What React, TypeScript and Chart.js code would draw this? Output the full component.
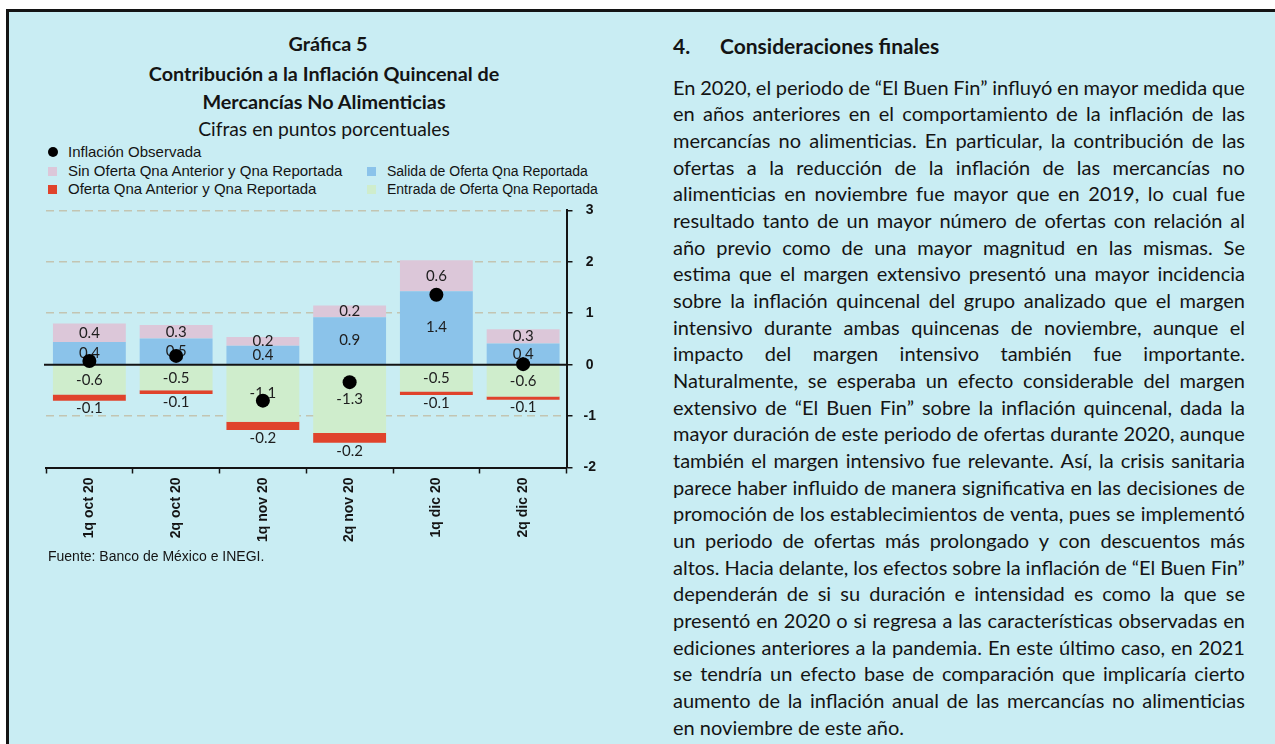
import React, { useEffect, useRef } from 'react';
import { Chart, registerables } from 'chart.js';

Chart.register(...registerables);

// ---------- DATA ----------
const categories = ['1q oct 20', '2q oct 20', '1q nov 20', '2q nov 20', '1q dic 20', '2q dic 20'];
const inflacionObservada = [0.07, 0.17, -0.7, -0.34, 1.36, 0.01];
const sinOfertaQna = [0.36, 0.26, 0.17, 0.23, 0.6, 0.28];
const salidaOfertaQna = [0.44, 0.51, 0.37, 0.92, 1.43, 0.41];
const entradaOfertaQna = [-0.58, -0.5, -1.11, -1.33, -0.52, -0.62];
const ofertaAnteriorQna = [-0.12, -0.07, -0.16, -0.19, -0.07, -0.06];
const yTickValues = [-2, -1, 0, 1, 2, 3];

const nameObs = 'Inflación Observada';
const nameSin = 'Sin Oferta Qna Anterior y Qna Reportada';
const nameSalida = 'Salida de Oferta Qna Reportada';
const nameOferta = 'Oferta Qna Anterior y Qna Reportada';
const nameEntrada = 'Entrada de Oferta Qna Reportada';

const titleLines = ['Gráfica 5', 'Contribución a la Inflación Quincenal de', 'Mercancías No Alimenticias'];
const subtitle = 'Cifras en puntos porcentuales';
const sourceText = 'Fuente: Banco de México e INEGI.';

const headingNum = '4.';
const headingText = 'Consideraciones finales';
const bodyLines = [
  'En 2020, el periodo de “El Buen Fin” influyó en mayor medida que',
  'en años anteriores en el comportamiento de la inflación de las',
  'mercancías no alimenticias. En particular, la contribución de las',
  'ofertas a la reducción de la inflación de las mercancías no',
  'alimenticias en noviembre fue mayor que en 2019, lo cual fue',
  'resultado tanto de un mayor número de ofertas con relación al',
  'año previo como de una mayor magnitud en las mismas. Se',
  'estima que el margen extensivo presentó una mayor incidencia',
  'sobre la inflación quincenal del grupo analizado que el margen',
  'intensivo durante ambas quincenas de noviembre, aunque el',
  'impacto del margen intensivo también fue importante.',
  'Naturalmente, se esperaba un efecto considerable del margen',
  'extensivo de “El Buen Fin” sobre la inflación quincenal, dada la',
  'mayor duración de este periodo de ofertas durante 2020, aunque',
  'también el margen intensivo fue relevante. Así, la crisis sanitaria',
  'parece haber influido de manera significativa en las decisiones de',
  'promoción de los establecimientos de venta, pues se implementó',
  'un periodo de ofertas más prolongado y con descuentos más',
  'altos. Hacia delante, los efectos sobre la inflación de “El Buen Fin”',
  'dependerán de si su duración e intensidad es como la que se',
  'presentó en 2020 o si regresa a las características observadas en',
  'ediciones anteriores a la pandemia. En este último caso, en 2021',
  'se tendría un efecto base de comparación que implicaría cierto',
  'aumento de la inflación anual de las mercancías no alimenticias',
  'en noviembre de este año.',
];

// ---------- STYLE ----------
const BG = '#c9edf3';
const C_PINK = '#dcc7d9';
const C_BLUE = '#8bc3ea';
const C_GREEN = '#cfedcc';
const C_RED = '#e0432b';
const C_GRID = '#c3c5b2';
const INK = '#141414';
const CALIBRI = 'Lato, "Open Sans", sans-serif';
const ARIAL = '"Liberation Sans", Arial, sans-serif';
const BODY_SIZE = 20;
const BODY_WIDTH = 572;

let measureCtx: CanvasRenderingContext2D | null = null;
function fitSize(words: string[], base: number, width: number, minGap: number) {
  if (!measureCtx && typeof document !== 'undefined') {
    measureCtx = document.createElement('canvas').getContext('2d');
  }
  if (!measureCtx) return base;
  let size = base;
  for (; size > 14; size -= 0.25) {
    measureCtx.font = `${size}px Lato`;
    let w = minGap * (words.length - 1);
    for (const wd of words) w += measureCtx.measureText(wd).width;
    if (w <= width) break;
  }
  return size;
}

const segLabelPlugin = {
  id: 'segLabels',
  beforeDatasetDraw(chart: any, args: any) {
    if (args.meta.type !== 'line') return;
    const ctx = chart.ctx;
    const ys = chart.scales.y;
    const area = chart.chartArea;
    ctx.save();
    const y0 = ys.getPixelForValue(0);
    ctx.strokeStyle = INK;
    ctx.lineWidth = 2;
    ctx.beginPath();
    ctx.moveTo(area.left - 2, y0);
    ctx.lineTo(area.right, y0);
    ctx.stroke();
    ctx.font = '15px Lato';
    ctx.fillStyle = '#1e1e1e';
    ctx.textAlign = 'center';
    ctx.textBaseline = 'middle';
    chart.data.datasets.forEach((ds: any, di: number) => {
      const meta = chart.getDatasetMeta(di);
      if (meta.type !== 'bar') return;
      meta.data.forEach((el: any, i: number) => {
        const v = ds.data[i];
        const p = el.getProps(['x', 'y', 'base'], true);
        const ty = ds.labelPos === 'below' ? Math.max(p.y, p.base) + 8 : (p.y + p.base) / 2;
        ctx.fillText(v.toFixed(1), p.x, ty);
      });
    });
    ctx.restore();
  },
};

function ChartCanvas() {
  const ref = useRef<HTMLCanvasElement>(null);
  useEffect(() => {
    if (!ref.current) return;
    const chart = new Chart(ref.current, {
      type: 'bar',
      data: {
        labels: categories,
        datasets: [
          {
            type: 'line',
            label: nameObs,
            data: inflacionObservada,
            showLine: false,
            pointRadius: 7,
            pointHoverRadius: 7,
            pointBackgroundColor: '#000',
            pointBorderColor: '#000',
            borderWidth: 0,
            order: 0,
            stack: 'obs',
          } as any,
          { label: nameSalida, data: salidaOfertaQna, backgroundColor: C_BLUE, order: 1, stack: 'bars' },
          { label: nameSin, data: sinOfertaQna, backgroundColor: C_PINK, order: 1, stack: 'bars' },
          { label: nameEntrada, data: entradaOfertaQna, backgroundColor: C_GREEN, order: 1, stack: 'bars' },
          { label: nameOferta, data: ofertaAnteriorQna, backgroundColor: C_RED, order: 1, stack: 'bars', labelPos: 'below' } as any,
        ],
      },
      options: {
        animation: false,
        responsive: false,
        maintainAspectRatio: false,
        datasets: { bar: { barPercentage: 0.84, categoryPercentage: 1 } },
        layout: { padding: { left: 46, right: 13.5, top: 0, bottom: 3.5 } },
        plugins: { legend: { display: false }, tooltip: { enabled: false } },
        scales: {
          x: {
            stacked: true,
            offset: true,
            grid: {
              display: true,
              offset: true,
              drawOnChartArea: false,
              drawTicks: true,
              tickLength: 6,
              tickColor: INK,
              tickWidth: 1.5,
            },
            border: { display: true, color: INK, width: 2 },
            ticks: {
              color: INK,
              font: { family: ARIAL, size: 14, weight: 'bold' },
              minRotation: 90,
              maxRotation: 90,
              autoSkip: false,
              padding: 4,
            },
            afterFit: (s: any) => {
              s.height = 80;
            },
          },
          y: {
            position: 'right',
            stacked: true,
            min: -2,
            max: 3,
            afterBuildTicks: (s: any) => {
              s.ticks = yTickValues.map((v) => ({ value: v }));
            },
            grid: {
              color: (c: any) =>
                c.tick && (c.tick.value === 0 || c.tick.value === -2) ? 'rgba(0,0,0,0)' : C_GRID,
              lineWidth: 1.5,
              drawTicks: true,
              tickLength: 6,
              tickColor: INK,
              tickWidth: 1.5,
            },
            border: { display: true, color: INK, width: 2, dash: [8, 5] },
            ticks: {
              color: INK,
              font: { family: ARIAL, size: 14, weight: 'bold' },
              padding: 11,
              crossAlign: 'center',
              callback: (v: any) => String(v),
            },
            afterFit: (s: any) => {
              s.width = 40;
            },
          },
        },
      } as any,
      plugins: [segLabelPlugin],
    });
    return () => chart.destroy();
  }, []);
  return (
    <canvas
      ref={ref}
      width={620}
      height={360}
      style={{ position: 'absolute', left: 0, top: 191, width: 620, height: 360 }}
    />
  );
}

const legendRow = (
  label: string,
  color: string,
  shape: 'dot' | 'sq',
  left: number,
  top: number,
  size: number
) => (
  <div
    key={label}
    style={{
      position: 'absolute',
      left,
      top: top - 9,
      height: 18,
      lineHeight: '18px',
      fontFamily: ARIAL,
      fontSize: size,
      color: INK,
      whiteSpace: 'nowrap',
    }}
  >
    <span
      style={{
        position: 'absolute',
        left: 0,
        top: shape === 'dot' ? 4 : 5,
        width: shape === 'dot' ? 10 : 9,
        height: shape === 'dot' ? 10 : 9,
        borderRadius: shape === 'dot' ? '50%' : 0,
        background: color,
      }}
    />
    <span style={{ position: 'absolute', left: 20 }}>{label}</span>
  </div>
);

export default function App() {
  return (
    <div
      style={{
        position: 'absolute',
        left: 0,
        top: 0,
        width: 1275,
        height: 744,
        overflow: 'hidden',
        background: '#fff',
      }}
    >
      <div
        style={{
          position: 'absolute',
          left: 6,
          top: 9,
          width: 1275,
          height: 744,
          background: BG,
          borderTop: `3px solid ${INK}`,
          borderLeft: `3px solid ${INK}`,
        }}
      />
      {titleLines.map((t, i) => (
        <div
          key={t}
          style={{
            position: 'absolute',
            left: i === 0 ? 28 : 24,
            width: 600,
            top: [43, 73, 101][i] - 14,
            height: 28,
            lineHeight: '28px',
            textAlign: 'center',
            fontFamily: CALIBRI,
            fontWeight: 700,
            fontSize: 19.8,
            color: INK,
          }}
        >
          {t}
        </div>
      ))}
      <div
        style={{
          position: 'absolute',
          left: 24,
          width: 600,
          top: 129 - 14,
          height: 28,
          lineHeight: '28px',
          textAlign: 'center',
          fontFamily: CALIBRI,
          fontSize: 19.3,
          color: INK,
        }}
      >
        {subtitle}
      </div>
      {legendRow(nameObs, '#000', 'dot', 48, 152, 15)}
      {legendRow(nameSin, C_PINK, 'sq', 48, 171, 15)}
      {legendRow(nameOferta, C_RED, 'sq', 48, 189, 15)}
      {legendRow(nameSalida, C_BLUE, 'sq', 367, 171, 14)}
      {legendRow(nameEntrada, C_GREEN, 'sq', 367, 189, 14)}
      <ChartCanvas />
      <div
        style={{
          position: 'absolute',
          left: 48,
          top: 547,
          height: 18,
          lineHeight: '18px',
          fontFamily: ARIAL,
          fontSize: 14,
          color: INK,
          whiteSpace: 'nowrap',
        }}
      >
        {sourceText}
      </div>
      <div
        style={{
          position: 'absolute',
          left: 673,
          top: 46 - 14,
          height: 28,
          lineHeight: '28px',
          fontFamily: CALIBRI,
          fontWeight: 700,
          fontSize: 21,
          color: INK,
          whiteSpace: 'nowrap',
        }}
      >
        <span>{headingNum}</span>
        <span style={{ position: 'absolute', left: 47 }}>{headingText}</span>
      </div>
      {bodyLines.map((line, i) => {
        const last = i === bodyLines.length - 1;
        const words = line.split(' ');
        const size = last ? BODY_SIZE : fitSize(words, BODY_SIZE, BODY_WIDTH, 3);
        return (
          <div
            key={i}
            style={{
              position: 'absolute',
              left: 673,
              width: BODY_WIDTH,
              top: 73.7 + i * 26.67,
              height: 26.67,
              lineHeight: '26.67px',
              display: 'flex',
              justifyContent: last ? 'flex-start' : 'space-between',
              whiteSpace: 'pre',
              fontFamily: CALIBRI,
              fontSize: size,
              color: INK,
            }}
          >
            {last ? <span>{line}</span> : words.map((w, j) => <span key={j}>{w}</span>)}
          </div>
        );
      })}
    </div>
  );
}
